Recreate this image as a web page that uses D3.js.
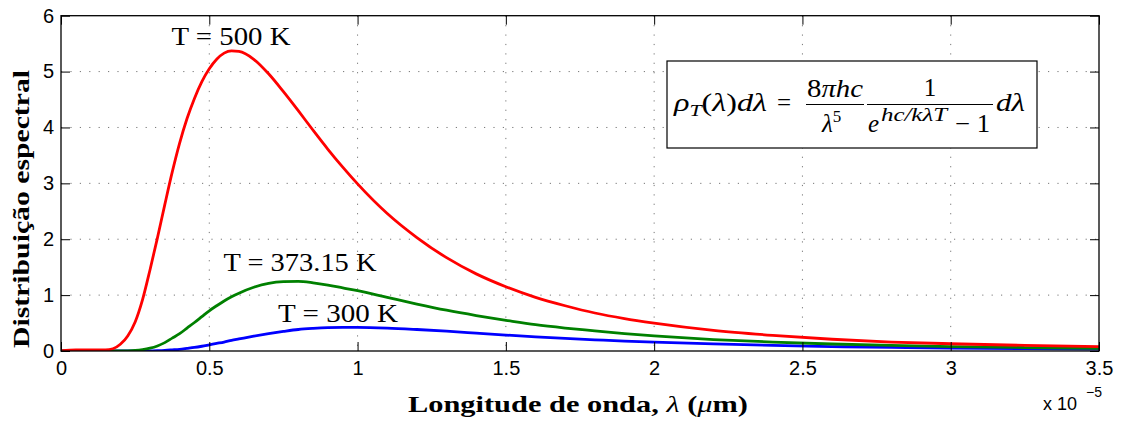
<!DOCTYPE html>
<html><head><meta charset="utf-8">
<script src="https://cdn.jsdelivr.net/npm/d3@7"></script>
<style>body{margin:0;background:#fff}</style>
</head><body><svg id="c" width="1122" height="421"></svg>
<script>
// wavelength (x 1e-5)
const lambda = [0,0.05,0.1,0.15,0.175,0.2,0.225,0.25,0.275,0.3,0.325,0.35,0.375,0.4,0.425,0.45,0.475,0.5,0.525,0.55,0.575,0.6,0.65,0.7,0.75,0.8,0.85,0.9,0.95,1.0,1.1,1.2,1.3,1.4,1.5,1.6,1.7,1.8,1.9,2.0,2.2,2.4,2.6,2.8,3.0,3.25,3.5];
const t500 = [0,0.02,0.02,0.02,0.04,0.12,0.27,0.52,0.92,1.45,2.02,2.62,3.20,3.72,4.16,4.52,4.82,5.05,5.22,5.33,5.37,5.36,5.22,4.96,4.64,4.30,3.95,3.61,3.29,2.99,2.46,2.03,1.67,1.38,1.15,0.96,0.81,0.68,0.58,0.50,0.37,0.28,0.21,0.16,0.13,0.10,0.08];
const t373 = [0,0,0,0,0,0,0.003,0.01,0.025,0.05,0.09,0.15,0.23,0.31,0.41,0.51,0.615,0.72,0.81,0.895,0.97,1.035,1.14,1.21,1.24,1.245,1.22,1.18,1.13,1.08,0.96,0.84,0.73,0.635,0.55,0.47,0.41,0.36,0.31,0.27,0.205,0.16,0.125,0.10,0.08,0.062,0.048];
const t300 = [0,0,0,0,0,0,0,0,0.001,0.003,0.006,0.011,0.02,0.03,0.046,0.063,0.085,0.11,0.135,0.16,0.19,0.215,0.265,0.31,0.35,0.385,0.405,0.418,0.422,0.422,0.41,0.385,0.355,0.32,0.285,0.253,0.225,0.2,0.177,0.158,0.126,0.10,0.08,0.064,0.052,0.041,0.033];
const xTickVals = [0,0.5,1,1.5,2,2.5,3,3.5];
const xTickLabels = ["0","0.5","1","1.5","2","2.5","3","3.5"];
const yTickVals = [0,1,2,3,4,5,6];
const yTickLabels = ["0","1","2","3","4","5","6"];
const seriesNames = ["T = 300 K","T = 373.15 K","T = 500 K"];
const seriesColors = ["#0000ff","#008000","#ff0000"];

const svg = d3.select("#c");
const L=61, R=1099, T=15.7, B=351;
const x = d3.scaleLinear().domain([0,3.5]).range([L,R]);
const y = d3.scaleLinear().domain([0,6]).range([B,T]);

// grid
const g = svg.append("g");
g.selectAll(".vg").data(xTickVals.slice(1,-1)).join("line")
  .attr("x1",d=>x(d)).attr("x2",d=>x(d)).attr("y1",T).attr("y2",B)
  .attr("stroke","#777").attr("stroke-width",1).attr("stroke-dasharray","1.2 8.2");
g.selectAll(".hg").data(yTickVals.slice(1,-1)).join("line")
  .attr("y1",d=>y(d)).attr("y2",d=>y(d)).attr("x1",L).attr("x2",R)
  .attr("stroke","#777").attr("stroke-width",1).attr("stroke-dasharray","1.2 8.2");

// curves
svg.append("clipPath").attr("id","cp").append("rect").attr("x",L).attr("y",T).attr("width",R-L).attr("height",B-T);
const line = d3.line().x((d,i)=>x(lambda[i])).y(d=>y(d)).curve(d3.curveMonotoneX);
[t300,t373,t500].forEach((s,k)=>{
  svg.append("path").datum(s).attr("d",line).attr("fill","none")
    .attr("stroke",seriesColors[k]).attr("stroke-width",2.8)
    .attr("clip-path","url(#cp)");
});

// axes
const tickFont = "'Liberation Sans', Arial, sans-serif";
const ax = svg.append("g").attr("transform",`translate(0,${B})`)
  .call(d3.axisBottom(x).tickValues(xTickVals).tickFormat((d,i)=>xTickLabels[i]).tickSizeInner(-9).tickSizeOuter(0).tickPadding(10));
const ay = svg.append("g").attr("transform",`translate(${L},0)`)
  .call(d3.axisLeft(y).tickValues(yTickVals).tickFormat((d,i)=>yTickLabels[i]).tickSizeInner(-9).tickSizeOuter(0).tickPadding(7));
const at = svg.append("g").attr("transform",`translate(0,${T})`)
  .call(d3.axisTop(x).tickValues(xTickVals).tickFormat("").tickSizeInner(-9).tickSizeOuter(0));
const ar = svg.append("g").attr("transform",`translate(${R},0)`)
  .call(d3.axisRight(y).tickValues(yTickVals).tickFormat("").tickSizeInner(-9).tickSizeOuter(0));
[ax,ay,at,ar].forEach(a=>{
  a.select(".domain").remove();
  a.selectAll("line").attr("stroke","#000").attr("stroke-width",1);
  a.selectAll("text").attr("font-family",tickFont).attr("font-size",20).attr("fill","#000");
});
svg.append("rect").attr("x",L).attr("y",T).attr("width",R-L).attr("height",B-T)
  .attr("fill","none").attr("stroke","#000").attr("stroke-width",1.3);

// exponent
svg.append("text").attr("x",1043).attr("y",410).attr("font-family",tickFont).attr("font-size",18).text("x 10");
svg.append("text").attr("x",1086).attr("y",397).attr("font-family",tickFont).attr("font-size",14).text("\u22125");

// axis labels
const serif = "'Liberation Serif', 'Times New Roman', serif";
svg.append("text").attr("transform","translate(29,209) rotate(-90)")
  .attr("text-anchor","middle").attr("font-family",serif).attr("font-weight","bold")
  .attr("font-size",23).attr("textLength",278).attr("lengthAdjust","spacingAndGlyphs")
  .text("Distribuição espectral");
const xl = svg.append("text").attr("x",408).attr("y",412).attr("font-family",serif)
  .attr("font-size",23).attr("textLength",340).attr("lengthAdjust","spacingAndGlyphs");
xl.append("tspan").attr("font-weight","bold").text("Longitude de onda, ");
xl.append("tspan").attr("font-style","italic").text("λ");
xl.append("tspan").attr("font-weight","bold").text(" (");
xl.append("tspan").attr("font-style","italic").text("μ");
xl.append("tspan").attr("font-weight","bold").text("m)");

// annotations
const ann = [
  {t:seriesNames[2], cx:231, by:45, w:119},
  {t:seriesNames[1], cx:300, by:271, w:153},
  {t:seriesNames[0], cx:338, by:322, w:120}
];
ann.forEach(a=>{
  svg.append("text").attr("x",a.cx).attr("y",a.by).attr("text-anchor","middle")
    .attr("font-family",serif).attr("font-size",25).attr("textLength",a.w)
    .attr("lengthAdjust","spacingAndGlyphs").text(a.t);
});

// equation box
svg.append("rect").attr("x",667).attr("y",61).attr("width",370).attr("height",87)
  .attr("fill","#fff").attr("stroke","#000").attr("stroke-width",1.2);
const fs = 25, fsS = 17;
function tx(xp,yp,size,anchor){
  return svg.append("text").attr("x",xp).attr("y",yp).attr("font-family",serif)
    .attr("font-size",size).attr("text-anchor",anchor||"start");
}
let e1 = tx(674,111,fs).attr("textLength",93).attr("lengthAdjust","spacingAndGlyphs");
e1.append("tspan").attr("font-style","italic").text("ρ");
e1.append("tspan").attr("font-style","italic").attr("font-size",fsS).attr("dy",5).text("T");
e1.append("tspan").attr("dy",-5).text("(");
e1.append("tspan").attr("font-style","italic").text("λ");
e1.append("tspan").text(")");
e1.append("tspan").attr("font-style","italic").text("dλ");
tx(784,111,fs,"middle").text("=");
// fraction 1
let n1 = tx(807,97,fs).attr("textLength",56).attr("lengthAdjust","spacingAndGlyphs");
n1.append("tspan").text("8");
n1.append("tspan").attr("font-style","italic").text("πhc");
svg.append("line").attr("x1",806).attr("x2",864).attr("y1",104.5).attr("y2",104.5).attr("stroke","#000").attr("stroke-width",1.2);
let d1 = tx(822,132,fs);
d1.append("tspan").attr("font-style","italic").text("λ");
d1.append("tspan").attr("font-size",fsS).attr("dy",-10).text("5");
// fraction 2
tx(930,96,fs,"middle").text("1");
svg.append("line").attr("x1",867).attr("x2",993).attr("y1",104.5).attr("y2",104.5).attr("stroke","#000").attr("stroke-width",1.2);
tx(868,132,fs).attr("font-style","italic").text("e");
tx(881,121,18).attr("font-style","italic").attr("textLength",66).attr("lengthAdjust","spacingAndGlyphs").text("hc/kλT");
tx(955,132,fs).attr("textLength",35).attr("lengthAdjust","spacingAndGlyphs").text("\u2212 1");
tx(996,111,fs).attr("font-style","italic").attr("textLength",29).attr("lengthAdjust","spacingAndGlyphs").text("dλ");
</script></body></html>
